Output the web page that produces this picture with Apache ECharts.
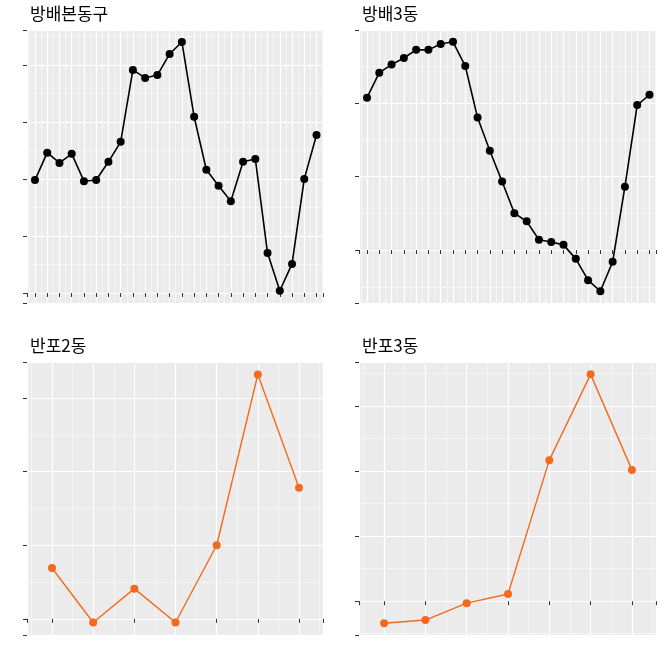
<!DOCTYPE html>
<html lang="ko">
<head>
<meta charset="UTF-8">
<script src="https://cdn.jsdelivr.net/npm/echarts@6/dist/echarts.min.js"></script>
<style>
  html, body { margin: 0; padding: 0; background: #fff; }
  #chart { width: 664px; height: 664px; }
</style>
</head>
<body>
<div id="chart"></div>
<script>
// 패널 이름
const titles = ['방배본동구', '방배3동', '반포2동', '반포3동'];
// 값 (눈금 간격 = 1 단위로 읽음)
const vals1 = [1.98, 2.46, 2.28, 2.44, 1.96, 1.98, 2.30, 2.65, 3.91, 3.77, 3.82, 4.19,
               4.40, 3.09, 2.16, 1.88, 1.61, 2.30, 2.35, 0.70, 0.04, 0.51, 2.00, 2.77];
const vals2 = [2.07, 2.41, 2.52, 2.61, 2.72, 2.72, 2.80, 2.83, 2.50, 1.80, 1.35, 0.93,
               0.50, 0.39, 0.14, 0.11, 0.07, -0.12, -0.41, -0.56, -0.16, 0.86, 1.97, 2.11];
const vals3 = [0.69, -0.05, 0.41, -0.05, 1.00, 3.32, 1.78];
const vals4 = [-0.34, -0.29, -0.03, 0.11, 2.17, 3.49, 2.02];
const yRange = [[-0.175, 4.61], [-0.72, 2.99], [-0.22, 3.49], [-0.52, 3.68]];
const ySplit = [5, 4, 4, 4];

const series = [vals1, vals2, vals3, vals4];
const colors = ['#000000', '#000000', '#F26B1D', '#F26B1D'];
const boxes = [
  { left: 27, top: 30 }, { left: 359, top: 30 },
  { left: 27, top: 362 }, { left: 359, top: 362 }
];

const chart = echarts.init(document.getElementById('chart'));
const grid = [], xAxis = [], yAxis = [], ser = [], title = [];
series.forEach((vals, i) => {
  const n = vals.length;
  const w = i % 2 === 0 ? 296 : 297;
  const step = (n === 24 ? 282 : 247) / (n - 1);
  const padL = i < 2 ? 8 : 25, padR = i < 2 ? 6.5 : 24;
  grid.push({ left: boxes[i].left, top: boxes[i].top, width: w, height: 273,
              backgroundColor: '#EBEBEB', show: true, borderWidth: 0 });
  title.push({ text: titles[i], left: boxes[i].left - 2, top: boxes[i].top - 30,
               textStyle: { fontSize: 17, fontWeight: 'normal', color: '#000',
                            fontFamily: 'Noto Sans CJK KR' } });
  xAxis.push({ type: 'value', gridIndex: i, min: 1 - padL / step, max: n + padR / step,
               splitNumber: n,
               axisLine: { show: false },
               axisTick: { show: true, length: 4, lineStyle: { color: '#333' } },
               axisLabel: { show: false },
               splitLine: { lineStyle: { color: '#fff', width: 1.2 } },
               minorSplitLine: { show: true, lineStyle: { color: '#fff', width: 0.5 } },
               minorTick: { show: false, splitNumber: 2 } });
  yAxis.push({ type: 'value', gridIndex: i, min: yRange[i][0], max: yRange[i][1],
               splitNumber: ySplit[i],
               axisLine: { show: false },
               axisTick: { show: true, length: 4, lineStyle: { color: '#333' } },
               axisLabel: { show: false },
               splitLine: { lineStyle: { color: '#fff', width: 1.2 } },
               minorSplitLine: { show: true, lineStyle: { color: '#fff', width: 0.5 } },
               minorTick: { show: false, splitNumber: 2 } });
  ser.push({ type: 'line', xAxisIndex: i, yAxisIndex: i,
             data: vals.map((v, k) => [k + 1, v]),
             symbol: 'circle', symbolSize: 8,
             itemStyle: { color: colors[i] },
             lineStyle: { color: colors[i], width: i < 2 ? 1.6 : 1.4 } });
});

chart.setOption({ animation: false, title, grid, xAxis, yAxis, series: ser });
</script>
</body>
</html>
